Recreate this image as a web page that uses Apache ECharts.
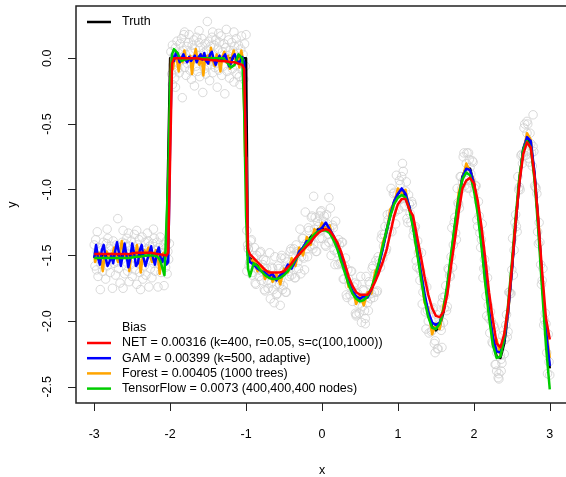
<!DOCTYPE html>
<html><head><meta charset="utf-8">
<script src="https://cdn.jsdelivr.net/npm/echarts@6/dist/echarts.min.js"></script>
<style>html,body{margin:0;padding:0;background:#fff}#chart{width:566px;height:477px}</style>
</head><body><div id="chart"></div>
<script>
// ---- data ----
const xGrid = [
-3,-2.975,-2.95,-2.925,-2.9,-2.875,-2.85,-2.825,-2.8,-2.775,
-2.75,-2.725,-2.7,-2.675,-2.65,-2.625,-2.6,-2.575,-2.55,-2.525,
-2.5,-2.475,-2.45,-2.425,-2.4,-2.375,-2.35,-2.325,-2.3,-2.275,
-2.25,-2.225,-2.2,-2.175,-2.15,-2.125,-2.1,-2.075,-2.05,-2.025,
-2,
-1.975,-1.95,-1.925,-1.9,-1.875,-1.85,-1.825,-1.8,-1.775,-1.75,
-1.725,-1.7,-1.675,-1.65,-1.625,-1.6,-1.575,-1.55,-1.525,-1.5,
-1.475,-1.45,-1.425,-1.4,-1.375,-1.35,-1.325,-1.3,-1.275,-1.25,
-1.225,-1.2,-1.175,-1.15,-1.125,-1.1,-1.075,-1.05,-1.025,-1,
-0.975,
-0.95,-0.9,-0.85,-0.8,-0.75,-0.7,-0.65,-0.6,-0.55,-0.5,
-0.45,-0.4,-0.35,-0.3,-0.25,-0.2,-0.15,-0.1,-0.05,0,
0.05,0.1,0.15,0.2,0.25,0.3,0.35,0.4,0.45,0.5,
0.55,0.6,0.65,0.7,0.75,0.8,0.85,0.9,0.95,1,
1.05,1.1,1.15,1.2,1.25,1.3,1.35,1.4,1.45,1.5,
1.55,1.6,1.65,1.7,1.75,1.8,1.85,1.9,1.95,2,
2.05,2.1,2.15,2.2,2.25,2.3,2.35,2.4,2.45,2.5,
2.55,2.6,2.65,2.7,2.75,2.8,2.85,2.9,2.95,3
];

const truthY = [
-1.5,-1.5,-1.5,-1.5,-1.5,-1.5,-1.5,-1.5,-1.5,-1.5,
-1.5,-1.5,-1.5,-1.5,-1.5,-1.5,-1.5,-1.5,-1.5,-1.5,
-1.5,-1.5,-1.5,-1.5,-1.5,-1.5,-1.5,-1.5,-1.5,-1.5,
-1.5,-1.5,-1.5,-1.5,-1.5,-1.5,-1.5,-1.5,-1.5,-1.5,
0,
0,0,0,0,0,0,0,0,0,0,
0,0,0,0,0,0,0,0,0,0,
0,0,0,0,0,0,0,0,0,0,
0,0,0,0,0,0,0,0,0,0,
-1.50,
-1.52,-1.55,-1.58,-1.61,-1.64,-1.66,-1.67,-1.67,-1.66,-1.64,
-1.61,-1.57,-1.53,-1.49,-1.44,-1.40,-1.36,-1.33,-1.30,-1.29,
-1.29,-1.31,-1.36,-1.43,-1.52,-1.61,-1.70,-1.77,-1.82,-1.84,
-1.84,-1.81,-1.76,-1.67,-1.56,-1.44,-1.31,-1.19,-1.09,-1.03,
-1.01,-1.04,-1.13,-1.27,-1.45,-1.63,-1.81,-1.95,-2.04,-2.07,
-2.04,-1.93,-1.75,-1.52,-1.28,-1.06,-0.90,-0.83,-0.84,-0.95,
-1.14,-1.39,-1.67,-1.93,-2.14,-2.27,-2.28,-2.17,-1.94,-1.62,
-1.26,-0.93,-0.69,-0.60,-0.66,-0.89,-1.26,-1.70,-2.10,-2.36
];

const netY = [
-1.49,-1.49,-1.49,-1.49,-1.49,-1.49,-1.49,-1.49,-1.49,-1.49,
-1.49,-1.49,-1.49,-1.49,-1.49,-1.49,-1.49,-1.49,-1.49,-1.485,
-1.485,-1.485,-1.48,-1.48,-1.48,-1.48,-1.48,-1.48,-1.48,-1.48,
-1.48,-1.485,-1.485,-1.49,-1.49,-1.49,-1.495,-1.50,-1.50,-1.48,
-0.75,
-0.04,0.0,0.0,0.0,0.0,0.0,0.0,0.0,0.0,0.0,
0.0,0.0,0.0,0.0,-0.005,-0.005,-0.005,-0.01,-0.01,-0.01,
-0.01,-0.015,-0.015,-0.015,-0.02,-0.02,-0.02,-0.02,-0.025,-0.025,
-0.025,-0.03,-0.03,-0.03,-0.035,-0.04,-0.04,-0.05,-0.08,-0.75,
-1.45,
-1.49,-1.52,-1.55,-1.58,-1.61,-1.63,-1.63,-1.63,-1.63,-1.62,
-1.59,-1.56,-1.52,-1.49,-1.46,-1.43,-1.40,-1.36,-1.33,-1.31,
-1.30,-1.31,-1.35,-1.40,-1.47,-1.56,-1.66,-1.73,-1.78,-1.80,
-1.80,-1.80,-1.76,-1.70,-1.63,-1.55,-1.46,-1.33,-1.20,-1.11,
-1.07,-1.07,-1.15,-1.20,-1.35,-1.50,-1.66,-1.80,-1.90,-1.96,
-1.97,-1.93,-1.80,-1.58,-1.38,-1.17,-0.99,-0.93,-0.91,-0.95,
-1.08,-1.28,-1.52,-1.78,-1.99,-2.17,-2.20,-2.10,-1.90,-1.60,
-1.25,-0.95,-0.73,-0.64,-0.68,-0.90,-1.25,-1.63,-1.98,-2.14
];

const gamY = [
-1.52,-1.42,-1.52,-1.57,-1.46,-1.42,-1.52,-1.58,-1.55,-1.50,
-1.56,-1.47,-1.40,-1.48,-1.58,-1.50,-1.41,-1.50,-1.59,-1.52,
-1.41,-1.48,-1.58,-1.56,-1.46,-1.42,-1.52,-1.58,-1.53,-1.48,
-1.43,-1.52,-1.57,-1.48,-1.44,-1.52,-1.55,-1.50,-1.57,-1.55,
-0.6,
0.03,-0.02,0.04,0.02,-0.03,0.0,0.03,-0.01,-0.03,0.01,
-0.02,0.0,0.02,-0.03,0.01,0.03,-0.01,0.04,-0.02,-0.04,
0.03,0.05,-0.01,-0.05,-0.01,0.02,-0.02,0.01,0.03,-0.02,
-0.06,-0.04,0.01,0.03,-0.01,-0.04,-0.02,0.01,-0.03,-0.8,
-1.50,
-1.55,-1.57,-1.60,-1.62,-1.63,-1.66,-1.64,-1.69,-1.65,-1.63,
-1.57,-1.60,-1.54,-1.47,-1.44,-1.39,-1.40,-1.35,-1.31,-1.29,
-1.25,-1.30,-1.35,-1.42,-1.51,-1.60,-1.70,-1.77,-1.81,-1.83,
-1.81,-1.82,-1.76,-1.67,-1.57,-1.45,-1.32,-1.19,-1.09,-1.03,
-0.99,-1.03,-1.13,-1.27,-1.44,-1.62,-1.79,-1.93,-2.01,-2.03,
-2.01,-1.92,-1.75,-1.53,-1.29,-1.07,-0.91,-0.84,-0.85,-0.95,
-1.13,-1.38,-1.66,-1.92,-2.12,-2.23,-2.24,-2.15,-1.93,-1.61,
-1.26,-0.93,-0.70,-0.60,-0.63,-0.88,-1.26,-1.69,-2.07,-2.34
];

const forestY = [
-1.50,-1.55,-1.50,-1.48,-1.52,-1.62,-1.50,-1.47,-1.50,-1.53,
-1.49,-1.44,-1.50,-1.55,-1.49,-1.39,-1.47,-1.52,-1.50,-1.62,
-1.50,-1.47,-1.52,-1.42,-1.50,-1.63,-1.51,-1.46,-1.49,-1.44,
-1.51,-1.55,-1.49,-1.46,-1.50,-1.64,-1.51,-1.48,-1.52,-1.50,
-0.75,
0.0,-0.08,0.02,0.0,-0.10,0.01,-0.03,0.06,-0.01,-0.02,
0.02,-0.12,0.0,0.07,-0.02,-0.05,0.03,-0.13,0.01,0.02,
-0.04,0.08,-0.02,-0.06,0.03,-0.01,-0.10,0.01,0.05,-0.03,
0.02,-0.08,0.01,0.06,-0.02,0.0,-0.07,0.06,-0.02,-0.75,
-1.48,
-1.55,-1.53,-1.62,-1.58,-1.68,-1.62,-1.70,-1.64,-1.72,-1.60,
-1.63,-1.52,-1.58,-1.44,-1.50,-1.36,-1.42,-1.30,-1.33,-1.25,
-1.30,-1.27,-1.38,-1.40,-1.55,-1.58,-1.74,-1.75,-1.87,-1.80,
-1.88,-1.78,-1.79,-1.62,-1.58,-1.40,-1.33,-1.15,-1.10,-0.99,
-1.03,-1.00,-1.15,-1.25,-1.48,-1.60,-1.86,-1.90,-2.10,-2.02,
-2.06,-1.88,-1.78,-1.50,-1.30,-1.02,-0.92,-0.80,-0.86,-0.93,
-1.16,-1.36,-1.70,-1.90,-2.18,-2.14,-2.26,-2.12,-1.95,-1.58,
-1.28,-0.90,-0.72,-0.57,-0.62,-0.92,-1.22,-1.72,-2.05,-2.28
];

const tensorflowY = [
-1.52,-1.52,-1.52,-1.52,-1.52,-1.52,-1.52,-1.52,-1.52,-1.52,
-1.52,-1.52,-1.52,-1.52,-1.52,-1.52,-1.52,-1.52,-1.52,-1.515,
-1.515,-1.51,-1.51,-1.51,-1.51,-1.51,-1.505,-1.50,-1.50,-1.50,
-1.50,-1.50,-1.50,-1.51,-1.52,-1.55,-1.60,-1.65,-1.64,-0.9,
-0.2,
0.03,0.07,0.08,0.04,0.0,-0.02,-0.02,-0.01,0.0,0.0,
0.0,0.0,0.0,0.0,0.0,0.0,0.0,0.0,0.0,0.0,
0.0,0.0,0.0,0.0,0.0,0.0,0.0,0.0,-0.01,-0.03,
-0.05,-0.07,-0.07,-0.05,-0.01,0.03,0.04,0.0,-0.4,-1.2,
-1.60,
-1.66,-1.56,-1.58,-1.62,-1.65,-1.67,-1.68,-1.68,-1.67,-1.65,
-1.62,-1.58,-1.53,-1.49,-1.45,-1.41,-1.37,-1.34,-1.32,-1.31,
-1.31,-1.33,-1.38,-1.45,-1.54,-1.63,-1.72,-1.79,-1.83,-1.85,
-1.84,-1.81,-1.75,-1.66,-1.55,-1.43,-1.31,-1.20,-1.11,-1.06,
-1.04,-1.06,-1.15,-1.29,-1.47,-1.66,-1.84,-1.97,-2.05,-2.06,
-2.02,-1.91,-1.72,-1.49,-1.26,-1.06,-0.92,-0.87,-0.89,-1.00,
-1.18,-1.43,-1.71,-1.97,-2.18,-2.28,-2.27,-2.13,-1.88,-1.56,
-1.21,-0.91,-0.70,-0.63,-0.68,-0.93,-1.32,-1.77,-2.19,-2.52
];

const obsPoints = [
[-3.00,-1.42],[-2.99,-1.58],[-2.98,-1.38],[-2.97,-1.61],[-2.96,-1.47],[-2.95,-1.66],[-2.94,-1.44],[-2.93,-1.53],[-2.92,-1.76],[-2.91,-1.57],
[-2.90,-1.46],[-2.89,-1.62],[-2.88,-1.40],[-2.87,-1.52],[-2.86,-1.49],[-2.85,-1.68],[-2.84,-1.41],[-2.83,-1.58],[-2.82,-1.37],[-2.81,-1.54],
[-2.80,-1.45],[-2.79,-1.63],[-2.78,-1.43],[-2.77,-1.51],[-2.76,-1.75],[-2.75,-1.39],[-2.74,-1.56],[-2.73,-1.47],[-2.72,-1.65],[-2.71,-1.42],
[-2.70,-1.55],[-2.69,-1.22],[-2.68,-1.60],[-2.67,-1.48],[-2.66,-1.71],[-2.65,-1.44],[-2.64,-1.53],[-2.63,-1.40],[-2.62,-1.75],[-2.61,-1.46],
[-2.60,-1.64],[-2.59,-1.41],[-2.58,-1.55],[-2.57,-1.37],[-2.56,-1.62],[-2.55,-1.49],[-2.54,-1.70],[-2.53,-1.43],[-2.52,-1.57],[-2.51,-1.39],
[-2.50,-1.66],[-2.49,-1.45],[-2.48,-1.52],[-2.47,-1.34],[-2.46,-1.61],[-2.45,-1.47],[-2.44,-1.72],[-2.43,-1.42],[-2.42,-1.56],[-2.41,-1.38],
[-2.40,-1.63],[-2.39,-1.76],[-2.38,-1.54],[-2.37,-1.36],[-2.36,-1.68],[-2.35,-1.48],[-2.34,-1.58],[-2.33,-1.40],[-2.32,-1.65],[-2.31,-1.45],
[-2.30,-1.53],[-2.29,-1.39],[-2.28,-1.74],[-2.27,-1.43],[-2.26,-1.60],[-2.25,-1.47],[-2.24,-1.67],[-2.23,-1.41],[-2.22,-1.56],[-2.21,-1.37],
[-2.20,-1.62],[-2.19,-1.46],[-2.18,-1.51],[-2.17,-1.40],[-2.16,-1.74],[-2.15,-1.44],[-2.14,-1.57],[-2.13,-1.36],[-2.12,-1.63],[-2.11,-1.48],
[-2.10,-1.55],[-2.09,-1.42],[-2.08,-1.73],[-2.07,-1.45],[-2.06,-1.59],[-2.05,-1.39],[-2.04,-1.64],[-2.03,-1.47],[-2.02,-1.53],[-2.01,-1.41],
[-1.99,0.05],[-1.98,-0.12],[-1.97,0.10],[-1.96,-0.05],[-1.95,0.02],[-1.94,-0.15],[-1.93,0.08],[-1.92,-0.03],[-1.91,0.13],[-1.90,-0.08],
[-1.89,0.04],[-1.88,-0.11],[-1.87,0.11],[-1.86,-0.02],[-1.85,0.15],[-1.84,-0.30],[-1.83,0.06],[-1.82,0.18],[-1.81,-0.07],[-1.80,0.03],
[-1.79,-0.13],[-1.78,0.09],[-1.77,-0.04],[-1.76,0.12],[-1.75,0.18],[-1.74,-0.09],[-1.73,0.05],[-1.72,-0.16],[-1.71,0.10],[-1.70,-0.01],
[-1.69,0.14],[-1.68,-0.21],[-1.67,0.07],[-1.66,-0.06],[-1.65,0.16],[-1.64,-0.10],[-1.63,0.02],[-1.62,0.12],[-1.61,-0.14],[-1.60,0.08],
[-1.59,-0.03],[-1.58,0.15],[-1.57,-0.26],[-1.56,0.04],[-1.55,-0.08],[-1.54,0.11],[-1.53,-0.12],[-1.52,0.06],[-1.51,0.28],[-1.50,-0.05],
[-1.49,0.13],[-1.48,-0.17],[-1.47,0.09],[-1.46,-0.02],[-1.45,0.16],[-1.44,-0.11],[-1.43,0.03],[-1.42,0.10],[-1.41,-0.07],[-1.40,0.14],
[-1.39,-0.04],[-1.38,-0.22],[-1.37,0.07],[-1.36,-0.09],[-1.35,0.12],[-1.34,-0.01],[-1.33,0.17],[-1.32,-0.13],[-1.31,0.05],[-1.30,-0.06],
[-1.29,0.11],[-1.28,-0.27],[-1.27,0.08],[-1.26,0.22],[-1.25,-0.10],[-1.24,0.02],[-1.23,0.14],[-1.22,-0.15],[-1.21,0.06],[-1.20,-0.03],
[-1.19,0.12],[-1.18,-0.08],[-1.17,0.04],[-1.16,-0.18],[-1.15,0.09],[-1.14,-0.05],[-1.13,0.15],[-1.12,-0.12],[-1.11,0.01],[-1.10,0.10],
[-1.09,-0.14],[-1.08,-0.20],[-1.07,0.07],[-1.06,0.17],[-1.05,-0.09],[-1.04,0.03],[-1.03,-0.16],[-1.02,0.11],[-1.01,-0.06],[-1.00,0.18],
[-0.98,-1.42],[-0.96,-1.58],[-0.94,-1.39],[-0.92,-1.65],[-0.90,-1.52],[-0.88,-1.71],[-0.86,-1.50],[-0.84,-1.61],[-0.82,-1.48],[-0.80,-1.69],
[-0.78,-1.57],[-0.76,-1.76],[-0.74,-1.54],[-0.72,-1.69],[-0.70,-1.65],[-0.68,-1.83],[-0.66,-1.59],[-0.64,-1.76],[-0.62,-1.51],[-0.60,-1.72],
[-0.58,-1.58],[-0.56,-1.72],[-0.54,-1.52],[-0.52,-1.76],[-0.50,-1.61],[-0.48,-1.78],[-0.46,-1.55],[-0.44,-1.62],[-0.42,-1.47],[-0.40,-1.65],
[-0.38,-1.50],[-0.36,-1.67],[-0.34,-1.42],[-0.32,-1.55],[-0.30,-1.48],[-0.28,-1.64],[-0.26,-1.37],[-0.24,-1.52],[-0.22,-1.17],[-0.20,-1.45],
[-0.18,-1.29],[-0.16,-1.43],[-0.14,-1.21],[-0.12,-1.45],[-0.10,-1.30],[-0.08,-1.47],[-0.06,-1.24],[-0.04,-1.32],[-0.02,-1.17],[0.00,-1.37],
[0.02,-1.24],[0.04,-1.42],[0.06,-1.19],[0.08,-1.34],[0.10,-1.30],[0.12,-1.50],[0.14,-1.27],[0.16,-1.46],[0.18,-1.24],[0.20,-1.48],
[0.22,-1.38],[0.24,-1.56],[0.26,-1.40],[0.28,-1.68],[0.30,-1.58],[0.32,-1.80],[0.34,-1.61],[0.36,-1.73],[0.38,-1.62],[0.40,-1.85],
[0.42,-1.74],[0.44,-1.94],[0.46,-1.72],[0.48,-1.87],[0.50,-1.83],[0.52,-2.01],[0.54,-1.76],[0.56,-1.92],[0.58,-1.66],[0.60,-1.86],
[0.62,-1.70],[0.64,-1.83],[0.66,-1.60],[0.68,-1.82],[0.70,-1.64],[0.72,-1.78],[0.74,-1.51],[0.76,-1.56],[0.78,-1.37],[0.80,-1.52],
[0.82,-1.34],[0.84,-1.47],[0.86,-1.19],[0.88,-1.28],[0.90,-1.18],[0.92,-1.32],[0.94,-1.03],[0.96,-1.17],[0.98,-0.89],[1.00,-1.08],
[1.02,-0.93],[1.04,-1.07],[1.06,-0.80],[1.08,-1.13],[1.10,-1.01],[1.12,-1.22],[1.14,-1.04],[1.16,-1.18],[1.18,-1.09],[1.20,-1.35],
[1.22,-1.29],[1.24,-1.54],[1.26,-1.39],[1.28,-1.60],[1.30,-1.62],[1.32,-1.87],[1.34,-1.69],[1.36,-1.93],[1.38,-1.74],[1.40,-2.00],
[1.42,-1.90],[1.44,-2.08],[1.46,-1.91],[1.48,-2.17],[1.50,-2.04],[1.52,-2.21],[1.54,-1.98],[1.56,-2.04],[1.58,-1.86],[1.60,-2.01],
[1.62,-1.81],[1.64,-1.92],[1.66,-1.60],[1.68,-1.65],[1.70,-1.51],[1.72,-1.59],[1.74,-1.25],[1.76,-1.33],[1.78,-0.99],[1.80,-1.11],
[1.82,-0.90],[1.84,-0.99],[1.86,-0.75],[1.88,-0.97],[1.90,-0.80],[1.92,-0.98],[1.94,-0.77],[1.96,-0.88],[1.98,-0.78],[2.00,-1.03],
[2.02,-0.97],[2.04,-1.23],[2.06,-1.09],[2.08,-1.33],[2.10,-1.38],[2.12,-1.67],[2.14,-1.53],[2.16,-1.81],[2.18,-1.67],[2.20,-1.98],
[2.22,-1.93],[2.24,-2.16],[2.26,-2.03],[2.28,-2.33],[2.30,-2.24],[2.32,-2.43],[2.34,-2.21],[2.36,-2.29],[2.38,-2.11],[2.40,-2.25],
[2.42,-2.03],[2.44,-2.12],[2.46,-1.78],[2.48,-1.79],[2.50,-1.61],[2.52,-1.65],[2.54,-1.25],[2.56,-1.28],[2.58,-0.90],[2.60,-0.98],
[2.62,-0.74],[2.64,-0.80],[2.66,-0.53],[2.68,-0.74],[2.70,-0.57],[2.72,-0.76],[2.74,-0.57],[2.76,-0.72],[2.78,-0.67],[2.80,-0.97],
[2.82,-0.99],[2.84,-1.32],[2.86,-1.25],[2.88,-1.57],[2.90,-1.69],[2.92,-2.03],[2.94,-1.94],[2.96,-2.24],[2.98,-2.10],[3.00,-2.41],
[-0.11,-1.05],[0.09,-1.06],[2.70,-0.48],[2.78,-0.43],[1.93,-0.72],[1.49,-2.24],[1.58,-2.20],[2.33,-2.40],[2.30,-2.38],[-0.99,-1.31],
[-0.97,-1.45],[-0.55,-1.88],[0.57,-1.98],[1.05,-0.90],[-0.03,-1.20],[0.45,-1.95],[2.72,-0.66],[1.97,-0.93],[2.36,-2.38],[-0.60,-1.80]
];

const obsPointsExtra = [
[-2.96,-1.32],[-2.83,-1.30],[-2.55,-1.33],[-2.44,-1.31],[-2.30,-1.33],[-2.22,-1.30],[-2.62,-1.31],
[-1.97,-0.20],[-1.93,-0.22],[-1.44,0.20],[-1.36,0.19],[-1.16,0.20],[-1.62,0.21],[-1.81,0.20],
[-0.99,-1.62],[-0.97,-1.45],[-0.95,-1.55],[-0.93,-1.38],[-0.91,-1.63],[-0.89,-1.44],[-0.87,-1.72],[-0.85,-1.56],[-0.83,-1.66],[-0.81,-1.47],
[-0.79,-1.62],[-0.77,-1.53],[-0.75,-1.77],[-0.73,-1.60],[-0.71,-1.75],[-0.69,-1.48],[-0.67,-1.71],[-0.65,-1.60],[-0.63,-1.86],[-0.61,-1.67],
[-0.59,-1.79],[-0.57,-1.60],[-0.55,-1.69],[-0.53,-1.50],[-0.51,-1.73],[-0.49,-1.52],[-0.47,-1.78],[-0.45,-1.59],[-0.43,-1.66],[-0.41,-1.45],
[-0.39,-1.57],[-0.37,-1.45],[-0.35,-1.67],[-0.33,-1.47],[-0.31,-1.60],[-0.29,-1.30],[-0.27,-1.51],[-0.25,-1.37],[-0.23,-1.61],[-0.21,-1.41],
[-0.19,-1.51],[-0.17,-1.31],[-0.15,-1.39],[-0.13,-1.20],[-0.11,-1.42],[-0.09,-1.21],[-0.07,-1.47],[-0.05,-1.28],[-0.03,-1.37],[-0.01,-1.16],
[0.01,-1.30],[0.03,-1.20],[0.05,-1.43],[0.07,-1.26],[0.09,-1.40],[0.11,-1.14],[0.13,-1.39],[0.15,-1.29],[0.17,-1.57],[0.19,-1.41],
[0.21,-1.57],[0.23,-1.42],[0.25,-1.55],[0.27,-1.40],[0.29,-1.68],[0.31,-1.52],[0.33,-1.82],[0.35,-1.68],[0.37,-1.80],[0.39,-1.62],
[0.41,-1.79],[0.43,-1.71],[0.45,-1.96],[0.47,-1.79],[0.49,-1.94],[0.51,-1.66],[0.53,-1.89],[0.55,-1.77],[0.57,-2.02],[0.59,-1.82],
[0.61,-1.92],[0.63,-1.72],[0.65,-1.79],[0.67,-1.58],[0.69,-1.78],[0.71,-1.54],[0.73,-1.77],[0.75,-1.54],[0.77,-1.59],[0.79,-1.34],
[0.81,-1.43],[0.83,-1.28],[0.85,-1.45],[0.87,-1.23],[0.89,-1.32],[0.91,-0.99],[0.93,-1.18],[0.95,-1.02],[0.97,-1.26],[0.99,-1.04],
[1.01,-1.15],[1.03,-0.96],[1.05,-1.04],[1.07,-0.86],[1.09,-1.12],[1.11,-0.94],[1.13,-1.25],[1.15,-1.11],[1.17,-1.25],[1.19,-1.11],
[1.21,-1.31],[1.23,-1.28],[1.25,-1.59],[1.27,-1.48],[1.29,-1.69],[1.31,-1.48],[1.33,-1.78],[1.35,-1.74],[1.37,-2.06],[1.39,-1.92],
[1.41,-2.09],[1.43,-1.94],[1.45,-2.07],[1.47,-1.90],[1.49,-2.15],[1.51,-1.95],[1.53,-2.21],[1.55,-2.02],[1.57,-2.07],[1.59,-1.82],
[1.61,-1.90],[1.63,-1.73],[1.65,-1.89],[1.67,-1.61],[1.69,-1.66],[1.71,-1.29],[1.73,-1.42],[1.75,-1.21],[1.77,-1.38],[1.79,-1.10],
[1.81,-1.14],[1.83,-0.90],[1.85,-0.94],[1.87,-0.72],[1.89,-0.93],[1.91,-0.72],[1.93,-0.99],[1.95,-0.83],[1.97,-0.95],[1.99,-0.79],
[2.01,-0.99],[2.03,-0.97],[2.05,-1.28],[2.07,-1.20],[2.09,-1.44],[2.11,-1.26],[2.13,-1.60],[2.15,-1.60],[2.17,-1.96],[2.19,-1.88],
[2.21,-2.09],[2.23,-2.00],[2.25,-2.17],[2.27,-2.05],[2.29,-2.33],[2.31,-2.16],[2.33,-2.44],[2.35,-2.26],[2.37,-2.32],[2.39,-2.07],
[2.41,-2.14],[2.43,-1.95],[2.45,-2.08],[2.47,-1.78],[2.49,-1.79],[2.51,-1.37],[2.53,-1.46],[2.55,-1.19],[2.57,-1.32],[2.59,-1.00],
[2.61,-1.00],[2.63,-0.73],[2.65,-0.74],[2.67,-0.50],[2.69,-0.71],[2.71,-0.50],[2.73,-0.79],[2.75,-0.65],[2.77,-0.82],[2.79,-0.71],
[2.81,-0.98],[2.83,-1.03],[2.85,-1.41],[2.87,-1.40],[2.89,-1.72],[2.91,-1.60],[2.93,-1.99],[2.95,-2.02],[2.97,-2.40],[2.99,-2.31]
];

const xTickValues = [-3, -2, -1, 0, 1, 2, 3];
const yTickValues = [-2.5, -2, -1.5, -1, -0.5, 0];
const truthName = 'Truth';
const biasTitle = 'Bias';
const modelNames = [
  'NET = 0.00316 (k=400, r=0.05, s=c(100,1000))',
  'GAM = 0.00399 (k=500, adaptive)',
  'Forest = 0.00405 (1000 trees)',
  'TensorFlow = 0.0073 (400,400,400 nodes)'
];
const modelColors = ['#ff0000', '#0000ff', '#ffa500', '#00cd00'];

// ---- chart ----
const FONT = '"Liberation Sans", Arial, Helvetica, sans-serif';
const FS = 12.5;
const zip = (xs, ys) => xs.map((x, i) => [x, ys[i]]);

const chart = echarts.init(document.getElementById('chart'), null, {renderer: 'canvas'});

function lineSeries(name, data, color, z, extra) {
  return Object.assign({
    name: name, type: 'line', data: data,
    symbol: 'none', showSymbol: false, clip: true,
    lineStyle: {color: color, width: 2.5, join: 'round'},
    itemStyle: {color: color}, z: z, silent: true, animation: false
  }, extra || {});
}

const forestData = zip(xGrid, forestY);
const splitIdx = xGrid.indexOf(-1);

const legendGraphics = [];
legendGraphics.push({type: 'line', shape: {x1: 87, y1: 22, x2: 111, y2: 22}, style: {stroke: '#000', lineWidth: 2.5}});
legendGraphics.push({type: 'text', x: 122, y: 22, style: {text: truthName, fill: '#000', fontSize: FS, fontFamily: FONT, verticalAlign: 'middle'}});
legendGraphics.push({type: 'text', x: 122, y: 328, style: {text: biasTitle, fill: '#000', fontSize: FS, fontFamily: FONT, verticalAlign: 'middle'}});
modelNames.forEach((n, i) => {
  const y = 343 + i * 15.2;
  legendGraphics.push({type: 'line', shape: {x1: 87, y1: y, x2: 111, y2: y}, style: {stroke: modelColors[i], lineWidth: 2.5}});
  legendGraphics.push({type: 'text', x: 122, y: y, style: {text: n, fill: '#000', fontSize: FS, fontFamily: FONT, verticalAlign: 'middle'}});
});

const option = {
  animation: false,
  backgroundColor: '#ffffff',
  grid: {left: 76, top: 6, width: 492, height: 397, show: true, borderColor: '#222', borderWidth: 1.5,
         backgroundColor: 'transparent', containLabel: false, outerBoundsMode: 'none'},
  xAxis: {
    type: 'value', min: -3.24, max: 3.24,
    axisLine: {show: false, onZero: false}, splitLine: {show: false},
    axisTick: {show: true, customValues: xTickValues, length: 8, lineStyle: {color: '#222', width: 1}},
    axisLabel: {customValues: xTickValues, margin: 25, fontSize: FS, fontFamily: FONT, color: '#000'},
    name: 'x', nameLocation: 'middle', nameGap: 61,
    nameTextStyle: {fontSize: FS, fontFamily: FONT, color: '#000'}
  },
  yAxis: {
    type: 'value', min: -2.623, max: 0.398,
    axisLine: {show: false, onZero: false}, splitLine: {show: false},
    axisTick: {show: true, customValues: yTickValues, length: 8, lineStyle: {color: '#222', width: 1}},
    axisLabel: {customValues: yTickValues, rotate: 90, margin: 22, fontSize: FS, fontFamily: FONT, color: '#000',
      formatter: v => Number(v).toFixed(1)},
    name: 'y', nameLocation: 'middle', nameGap: 57,
    nameTextStyle: {fontSize: FS, fontFamily: FONT, color: '#000'}
  },
  series: [
    {type: 'scatter', name: 'obs', data: obsPoints.concat(obsPointsExtra), symbol: 'circle', symbolSize: 8.5,
     itemStyle: {color: 'rgba(0,0,0,0)', borderColor: '#d0d0d0', borderWidth: 1}, z: 1, silent: true, animation: false},
    lineSeries(truthName, zip(xGrid, truthY), '#000000', 2),
    lineSeries(modelNames[2], forestData.slice(0, splitIdx + 1), modelColors[2], 3, {step: 'middle'}),
    lineSeries(modelNames[2], forestData.slice(splitIdx), modelColors[2], 3),
    lineSeries(modelNames[1], zip(xGrid, gamY), modelColors[1], 4),
    lineSeries(modelNames[3], zip(xGrid, tensorflowY), modelColors[3], 5),
    lineSeries(modelNames[0], zip(xGrid, netY), modelColors[0], 6)
  ],
  graphic: legendGraphics
};
chart.setOption(option);
</script>
</body></html>
